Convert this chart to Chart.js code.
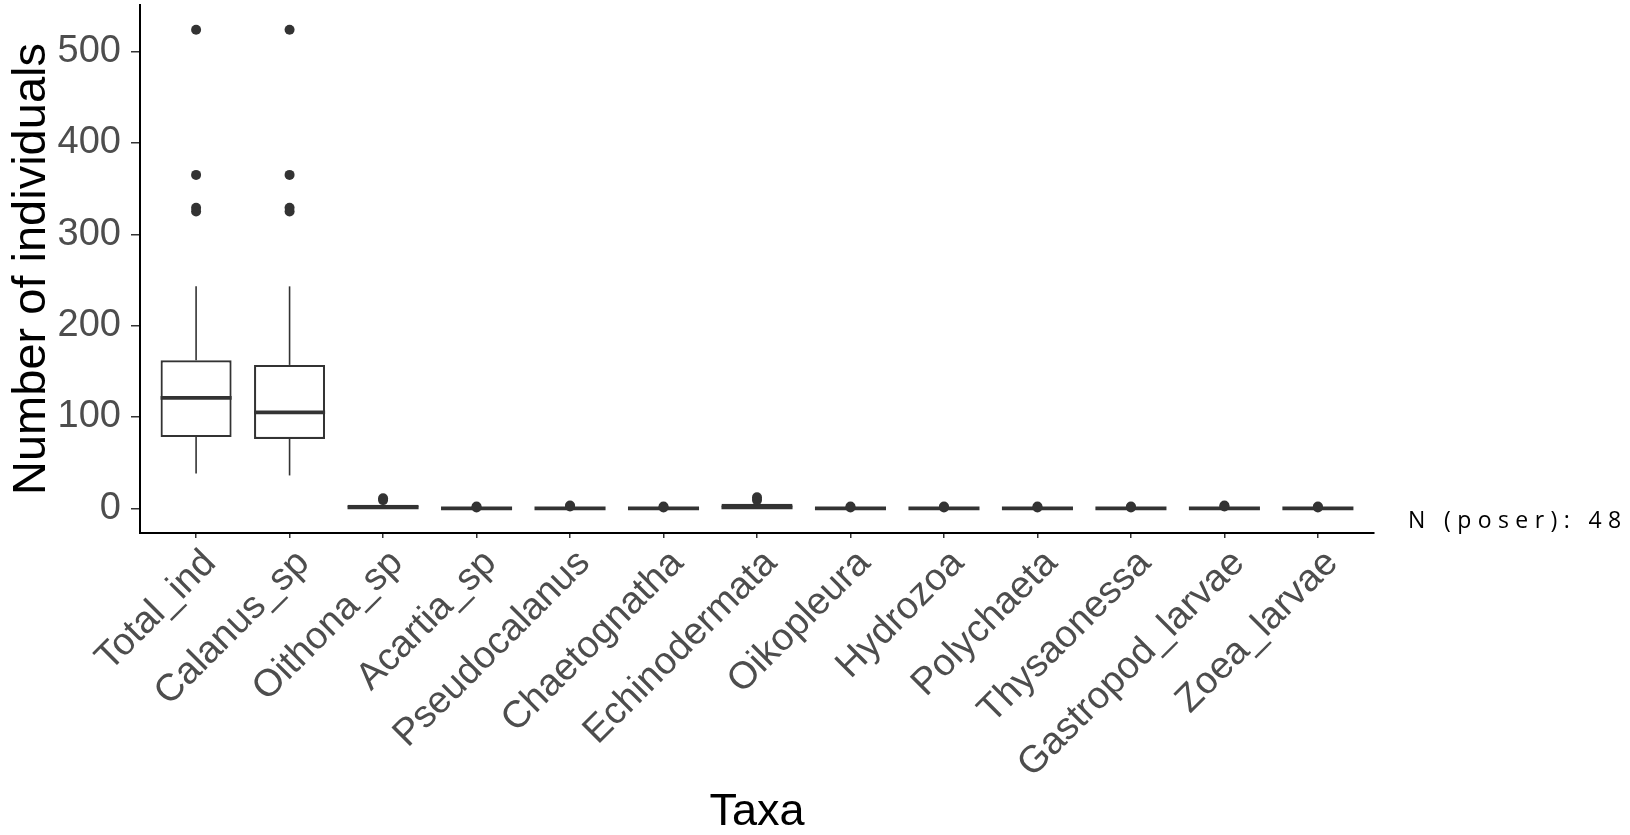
<!DOCTYPE html>
<html>
<head>
<meta charset="utf-8">
<title>Number of individuals by taxa</title>
<script src="https://cdn.jsdelivr.net/npm/chart.js@4.4.1/dist/chart.umd.min.js"></script>
<style>
  html, body { margin: 0; padding: 0; background: #ffffff; }
  #wrap { position: relative; width: 1630px; height: 835px; }
  #note {
    position: absolute; left: 1408px; top: 508px;
    font-family: "Open Sans", "Liberation Sans", sans-serif;
    font-size: 23px; line-height: 23px; letter-spacing: 6.4px;
    color: #000000; white-space: nowrap;
  }
</style>
</head>
<body>
<div id="wrap">
  <canvas id="chart" width="1630" height="835"></canvas>
  <div id="note">N (poser): 48</div>
</div>
<script>
// Taxa on the x axis
const categories = ['Total_ind', 'Calanus_sp', 'Oithona_sp', 'Acartia_sp', 'Pseudocalanus',
  'Chaetognatha', 'Echinodermata', 'Oikopleura', 'Hydrozoa', 'Polychaeta',
  'Thysaonessa', 'Gastropod_larvae', 'Zoea_larvae'];

// Box-plot summaries per taxon (individuals per sample)
const lowerWhisker = [38, 36, 0, 0, 0, 0, 0, 0, 0, 0, 0, 0, 0];
const lowerQuartile = [78, 76, 0, 0, 0, 0, 0, 0, 0, 0, 0, 0, 0];
const medianValue = [121, 105, 1, 0, 0, 0, 1, 0, 0, 0, 0, 0, 0];
const upperQuartile = [162, 157, 4, 0, 0, 0, 5, 0, 0, 0, 0, 0, 0];
const upperWhisker = [243, 243, 8, 0, 0, 0, 8, 0, 0, 0, 0, 0, 0];

// Outlying samples per taxon
const outliers = [
  [325, 329, 365, 524],
  [325, 329, 365, 524],
  [9, 11],
  [1, 2],
  [2, 3],
  [1, 2],
  [9, 12],
  [1, 2],
  [1, 2],
  [1, 2],
  [1, 2],
  [2, 3],
  [1, 2]
];

const yTickValues = [0, 100, 200, 300, 400, 500];

const INK = '#333333';
const TICK_TEXT = '#4D4D4D';
const FONT = '"Liberation Sans", Arial, sans-serif';

const boxData = categories.map((c, i) => ({ x: i, y: [lowerQuartile[i], upperQuartile[i]] }));
const outlierData = [];
outliers.forEach((list, i) => list.forEach(v => outlierData.push({ x: i, y: v })));

// Whiskers and median lines drawn on top of the boxes through the chart scales
const boxExtras = {
  id: 'boxExtras',
  afterDatasetDraw(chart, args) {
    if (args.index !== 0) return;
    const { ctx, scales: { x, y } } = chart;
    const meta = chart.getDatasetMeta(0);
    ctx.save();
    ctx.strokeStyle = INK;
    ctx.lineCap = 'butt';
    categories.forEach((c, i) => {
      const cx = x.getPixelForValue(i);
      ctx.lineWidth = 1.6;
      if (upperWhisker[i] > upperQuartile[i]) {
        ctx.beginPath();
        ctx.moveTo(cx, y.getPixelForValue(upperQuartile[i]));
        ctx.lineTo(cx, y.getPixelForValue(upperWhisker[i]));
        ctx.stroke();
      }
      if (lowerWhisker[i] < lowerQuartile[i]) {
        ctx.beginPath();
        ctx.moveTo(cx, y.getPixelForValue(lowerQuartile[i]));
        ctx.lineTo(cx, y.getPixelForValue(lowerWhisker[i]));
        ctx.stroke();
      }
      const half = meta.data[i].width / 2;
      const my = y.getPixelForValue(medianValue[i]);
      ctx.lineWidth = 3.8;
      ctx.beginPath();
      ctx.moveTo(cx - half, my);
      ctx.lineTo(cx + half, my);
      ctx.stroke();
    });
    ctx.restore();
  }
};

new Chart(document.getElementById('chart'), {
  data: {
    datasets: [
      {
        type: 'bar',
        data: boxData,
        backgroundColor: '#ffffff',
        borderColor: INK,
        borderWidth: 2.2,
        borderSkipped: false,
        barPercentage: 0.76,
        categoryPercentage: 1,
        order: 2
      },
      {
        type: 'scatter',
        data: outlierData,
        pointRadius: 5,
        pointHoverRadius: 5,
        backgroundColor: INK,
        borderWidth: 0,
        order: 1
      }
    ]
  },
  options: {
    responsive: false,
    devicePixelRatio: 1,
    animation: false,
    layout: { padding: { top: 4, right: 256, left: 0, bottom: 0 } },
    plugins: { legend: { display: false }, tooltip: { enabled: false } },
    scales: {
      x: {
        type: 'linear',
        min: -0.6,
        max: 12.6,
        offset: false,
        afterBuildTicks: (axis) => { axis.ticks = categories.map((c, i) => ({ value: i })); },
        afterFit: (axis) => { axis.height = 302; axis.paddingLeft = 0; axis.paddingRight = 0; },
        ticks: {
          autoSkip: false,
          maxRotation: 45,
          minRotation: 45,
          padding: 3,
          labelOffset: 14,
          color: TICK_TEXT,
          font: { family: FONT, size: 38 },
          callback: (value, index) => categories[index]
        },
        grid: { offset: false, drawOnChartArea: false, drawTicks: true, tickLength: 5, color: INK, lineWidth: 1.5 },
        border: { display: true, color: '#000000', width: 2 },
        title: {
          display: true,
          text: 'Taxa',
          color: '#000000',
          font: { family: FONT, size: 45, lineHeight: 1 },
          padding: { top: 0, bottom: 0 }
        }
      },
      y: {
        type: 'linear',
        min: -27,
        max: 551,
        afterBuildTicks: (axis) => { axis.ticks = yTickValues.map(v => ({ value: v })); },
        afterFit: (axis) => { axis.width = 140; axis.paddingTop = 0; axis.paddingBottom = 0; },
        ticks: {
          padding: 10,
          color: TICK_TEXT,
          font: { family: FONT, size: 38 }
        },
        grid: { drawOnChartArea: false, drawTicks: true, tickLength: 9, color: INK, lineWidth: 1.5 },
        border: { display: true, color: '#000000', width: 2 },
        title: {
          display: true,
          text: 'Number of individuals',
          color: '#000000',
          font: { family: FONT, size: 47 },
          padding: { top: 4, bottom: 0 }
        }
      }
    }
  },
  plugins: [boxExtras]
});
</script>
</body>
</html>
